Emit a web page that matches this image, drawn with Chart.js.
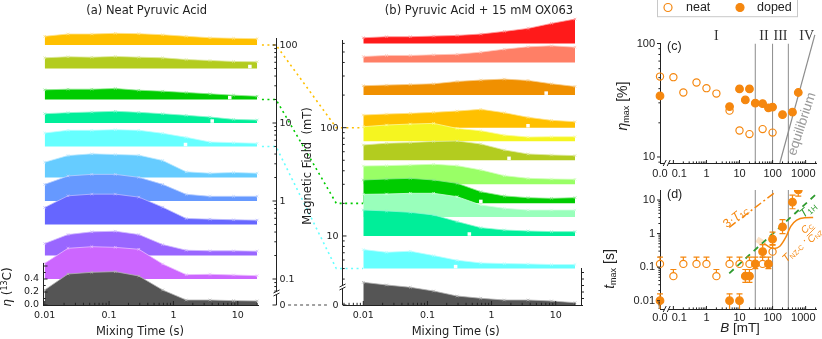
<!DOCTYPE html>
<html><head><meta charset="utf-8">
<script src="https://cdn.jsdelivr.net/npm/chart.js@4.4.1/dist/chart.umd.min.js"></script>
<style>
html,body{margin:0;padding:0;background:#fff;}
#wrap{position:relative;width:822px;height:339px;overflow:hidden;background:#fff;}
#wrap canvas{position:absolute;}
</style></head><body>
<div id="wrap">
<canvas id="cA" width="270" height="339" style="left:0px;top:0px"></canvas>
<canvas id="cB" width="262" height="339" style="left:338px;top:0px"></canvas>
<canvas id="cM" width="110" height="339" style="left:258px;top:0px"></canvas>
<canvas id="cC" width="222" height="185" style="left:600px;top:0px"></canvas>
<canvas id="cD" width="222" height="169" style="left:600px;top:170px"></canvas>
</div>
<script>
// ================= DATA =================
const mixTimes = [0.01, 0.023, 0.054, 0.125, 0.29, 0.68, 1.58, 3.7, 8.6, 20];
const mixTickValues = [0.01, 0.1, 1, 10];
const mixTickLabels = ['0.01', '0.1', '1', '10'];
const etaTickValues = [0, 0.2, 0.4];
const etaTickLabels = ['0.0', '0.2', '0.4'];

// (a) neat pyruvic acid: eta(13C) vs mixing time, one ridge per field (mT)
const neatFields = [100, 50, 20, 10, 5, 2, 1, 0.5, 0.2, 0.1, 0];
const neatEta100 = [0.134, 0.169, 0.169, 0.180, 0.174, 0.158, 0.134, 0.112, 0.103, 0.097];
const neatEta50  = [0.164, 0.180, 0.174, 0.185, 0.174, 0.164, 0.138, 0.123, 0.108, 0.103];
const neatEta20  = [0.149, 0.159, 0.159, 0.169, 0.143, 0.128, 0.108, 0.087, 0.067, 0.051];
const neatEta10  = [0.143, 0.159, 0.169, 0.180, 0.164, 0.143, 0.118, 0.092, 0.056, 0.046];
const neatEta5   = [0.208, 0.249, 0.249, 0.259, 0.249, 0.203, 0.141, 0.069, 0.059, 0.049];
const neatEta2   = [0.236, 0.338, 0.364, 0.354, 0.344, 0.262, 0.087, 0.067, 0.077, 0.067];
const neatEta1   = [0.256, 0.385, 0.410, 0.410, 0.364, 0.256, 0.103, 0.072, 0.072, 0.072];
const neatEta05  = [0.262, 0.441, 0.467, 0.467, 0.421, 0.267, 0.092, 0.082, 0.072, 0.067];
const neatEta02  = [0.185, 0.323, 0.364, 0.374, 0.323, 0.169, 0.082, 0.072, 0.072, 0.067];
const neatEta01  = [0.241, 0.472, 0.497, 0.487, 0.457, 0.231, 0.067, 0.072, 0.062, 0.051];
const neatEta0   = [0.231, 0.477, 0.503, 0.513, 0.446, 0.231, 0.077, 0.077, 0.067, 0.062];
const neatCurves = [neatEta100, neatEta50, neatEta20, neatEta10, neatEta5, neatEta2, neatEta1, neatEta05, neatEta02, neatEta01, neatEta0];
const neatColors = ['#FFC000', '#B3CC1F', '#00CC00', '#00EE99', '#66FFFF', '#66CCFF', '#6699FF', '#6666FF', '#9966FF', '#CC66FF', '#555555'];
const neatNotchFields = [50, 20, 10, 5];
const neatNotchTimes = [15.4, 7.5, 4.0, 1.54];

// (b) pyruvic acid + 15 mM OX063
const dopedFields = [600, 400, 200, 100, 75, 50, 30, 20, 15, 10, 5, 0];
const dopedEta600 = [0.087, 0.103, 0.103, 0.113, 0.123, 0.144, 0.185, 0.231, 0.308, 0.374];
const dopedEta400 = [0.092, 0.108, 0.108, 0.118, 0.128, 0.159, 0.205, 0.241, 0.256, 0.236];
const dopedEta200 = [0.144, 0.154, 0.164, 0.174, 0.210, 0.231, 0.246, 0.226, 0.174, 0.133];
const dopedEta100 = [0.195, 0.210, 0.221, 0.236, 0.256, 0.282, 0.231, 0.159, 0.113, 0.092];
const dopedEta75  = [0.223, 0.249, 0.264, 0.274, 0.197, 0.162, 0.095, 0.064, 0.069, 0.069];
const dopedEta50  = [0.236, 0.262, 0.272, 0.290, 0.297, 0.251, 0.159, 0.097, 0.082, 0.072];
const dopedEta30  = [0.282, 0.287, 0.297, 0.308, 0.287, 0.221, 0.133, 0.092, 0.082, 0.077];
const dopedEta20  = [0.360, 0.375, 0.385, 0.360, 0.308, 0.180, 0.114, 0.088, 0.077, 0.088];
const dopedEta15  = [0.347, 0.352, 0.363, 0.363, 0.311, 0.183, 0.132, 0.106, 0.106, 0.106];
const dopedEta10  = [0.400, 0.385, 0.364, 0.323, 0.221, 0.128, 0.092, 0.077, 0.067, 0.067];
const dopedEta5   = [0.292, 0.251, 0.267, 0.200, 0.128, 0.087, 0.077, 0.072, 0.062, 0.062];
const dopedEta0   = [0.349, 0.308, 0.272, 0.215, 0.138, 0.103, 0.077, 0.077, 0.062, 0.036];
const dopedCurves = [dopedEta600, dopedEta400, dopedEta200, dopedEta100, dopedEta75, dopedEta50, dopedEta30, dopedEta20, dopedEta15, dopedEta10, dopedEta5, dopedEta0];
const dopedColors = ['#FF1A1A', '#FF7F66', '#F09000', '#FFC000', '#F5F520', '#B3CC1F', '#99FF66', '#00CC00', '#99FFBB', '#00EE99', '#66FFFF', '#555555'];
const dopedNotchFields = [200, 100, 50, 20, 10, 5];
const dopedNotchTimes = [7.1, 3.7, 1.87, 0.68, 0.45, 0.275];

// magnetic-field axes between (a) and (b)
const fieldMajorA = [100, 10, 1, 0.1, 0];
const fieldLabelsA = ['100', '10', '1', '0.1', '0'];
const fieldMajorB = [100, 10, 0];
const fieldLabelsB = ['100', '10', '0'];
const linkFields = [100, 20, 5];
const linkColors = ['#FFC000', '#00CC00', '#66FFFF'];

// (c) eta_max [%]
const neatB = [0, 0.1, 0.2, 0.5, 1, 2, 5, 10, 20, 50, 100];
const neatEtaMax = [51.1, 50.5, 37.0, 45.3, 40.4, 36.2, 25.6, 17.1, 15.9, 17.6, 16.4];
const dopedB = [0, 5, 10, 15, 20, 30, 50, 75, 100, 200, 400, 600];
const dopedEtaMax = [34.5, 27.8, 39.8, 31.8, 39.8, 29.8, 29.5, 27.1, 27.5, 23.6, 24.8, 37.0];
const regionBounds = [30, 100, 300];
const regionLabels = ['I', 'II', 'III', 'IV'];
const equilibriumB = [166, 1900];
const equilibriumEta = [8.85, 119];
const bTickValues = [0, 0.1, 1, 10, 100, 1000];
const bTickLabels = ['0.0', '0.1', '1', '10', '100', '1000'];

// (d) t_max [s]
const neatTmax   = [0.125, 0.054, 0.125, 0.125, 0.125, 0.054, 0.125, 0.125, 0.125, 0.125, 0.29];
const neatTmaxHi = [0.2, 0.085, 0.2, 0.2, 0.2, 0.085, 0.2, 0.2, 0.2, 0.2, 0.47];
const neatTmaxLo = [0.1, 0.045, 0.1, 0.1, 0.1, 0.045, 0.1, 0.1, 0.1, 0.1, 0.23];
const dopedTmax   = [0.01, 0.01, 0.01, 0.054, 0.054, 0.125, 0.29, 0.125, 0.68, 1.58, 8.6, 20];
const dopedTmaxHi = [0.016, 0.016, 0.016, 0.085, 0.085, 0.2, 0.47, 0.2, 1.1, 2.6, 14, 32];
const dopedTmaxLo = [0.004, 0.004, 0.004, 0.035, 0.035, 0.09, 0.2, 0.09, 0.45, 1.0, 5.5, 13];
const t1cB = [4.9, 126];
const t1cTimes3 = [1.54, 17.7];
const t1hB = [4.9, 1950];
const t1hTimes = [0.0656, 14.1];
const nzB = [55.7, 83, 112, 166, 252, 355, 537, 935, 1690];
const nzTimes = [0.50, 0.39, 0.36, 0.42, 0.78, 1.65, 2.5, 2.95, 3.0];
const nzHaloB = [33.6, 58.5];
const nzHaloTimes = [0.68, 0.48];
const tTickValues = [0.01, 0.1, 1, 10];
const tTickLabels = ['0.01', '0.1', '1', '10'];

// ================= HELPERS =================
const FDV = "'DejaVu Sans', sans-serif";
const FLS = "'Liberation Sans', Arial, sans-serif";
const FSR = "'Liberation Serif', 'DejaVu Serif', serif";
const INK = '#222222';
const ORANGE = '#F5870F';
const DGREEN = '#2F9B2F';

function mix(hex, w) {
  const n = parseInt(hex.slice(1), 16);
  const f = c => Math.round(c + (255 - c) * w);
  return 'rgb(' + f((n >> 16) & 255) + ',' + f((n >> 8) & 255) + ',' + f(n & 255) + ')';
}
function seg(ctx, x1, y1, x2, y2, color, w) {
  ctx.beginPath(); ctx.moveTo(x1, y1); ctx.lineTo(x2, y2);
  ctx.strokeStyle = color || INK; ctx.lineWidth = w || 1; ctx.stroke();
}
function rich(ctx, segs, x, y, o) {
  o = o || {};
  ctx.save();
  ctx.translate(x, y);
  if (o.rot) ctx.rotate(o.rot * Math.PI / 180);
  ctx.textBaseline = 'middle';
  let w = 0;
  for (const s of segs) { ctx.font = s.f; s._w = ctx.measureText(s.t).width; w += s._w; }
  let cx = o.align === 'left' ? 0 : o.align === 'right' ? -w : -w / 2;
  for (const s of segs) {
    ctx.font = s.f; ctx.fillStyle = s.c || o.color || INK;
    ctx.fillText(s.t, cx, s.dy || 0); cx += s._w;
  }
  ctx.restore();
}
function logMinors(lo, hi) {
  const out = [];
  for (let e = -3; e <= 3; e++) for (let k = 2; k <= 9; k++) {
    const v = k * Math.pow(10, e);
    if (v >= lo && v <= hi) out.push(v);
  }
  return out;
}
function baseOpts(padding) {
  return {
    responsive: false, animation: false, devicePixelRatio: 1, events: [],
    layout: { padding: padding },
    plugins: { legend: { display: false }, tooltip: { enabled: false } }
  };
}
// ridge baselines (in eta units, 65 px per unit, zero line at the x axis) placed on the field axes
const offA = B => B === 0 ? 0 : 4.0 + (Math.log10(B) - 2) * 1.2;
const offB = B => B === 0 ? 0 : 2.728 + (Math.log10(B) - 2) * 1.666;
const ETA_MAX_A = 285 / 65;
const ETA_MAX_B = 295 / 65;
const ETA_MAX_M = 266 / 65;

function ridge(B, vals, col, off, order) {
  const b0 = off(B), edge = mix(col, 0.55);
  return {
    data: mixTimes.map((t, j) => ({ x: t, y: b0 + vals[j] })),
    fill: { value: b0 }, backgroundColor: col,
    borderColor: edge, borderWidth: 0.8,
    pointStyle: 'crossRot', pointRadius: 1.8, pointBorderColor: edge, pointBorderWidth: 0.8,
    clip: false, order: order
  };
}
function notches(fields, times, off) {
  return {
    data: fields.map((B, i) => ({ x: times[i], y: off(B) + 0.03 })),
    showLine: false, pointStyle: 'rect', pointRadius: 2.5,
    pointBackgroundColor: '#ffffff', pointBorderWidth: 0, clip: false, order: 0
  };
}
function mixXAxis(min, max) {
  return {
    type: 'logarithmic', min: min, max: max,
    afterBuildTicks: s => { s.ticks = mixTickValues.map(v => ({ value: v })); },
    afterFit: s => { s.height = 34; },
    ticks: { callback: (v, i) => mixTickLabels[i], font: { family: FDV, size: 9.5 }, color: INK, padding: 5, maxRotation: 0, minRotation: 0, autoSkip: false },
    grid: { display: false, drawTicks: false },
    border: { display: true, color: INK, width: 1 }
  };
}
function mixXTicks(ctx, xs, yAxis) {
  mixTickValues.forEach(v => seg(ctx, xs.getPixelForValue(v), yAxis, xs.getPixelForValue(v), yAxis - 4));
  logMinors(xs.min, xs.max).forEach(v => seg(ctx, xs.getPixelForValue(v), yAxis, xs.getPixelForValue(v), yAxis - 2.2));
}

// ================= PANEL (a) =================
new Chart(document.getElementById('cA'), {
  type: 'line',
  data: { datasets: neatFields.map((B, i) => ridge(B, neatCurves[i], neatColors[i], offA, neatFields.length - i))
            .concat([notches(neatNotchFields, neatNotchTimes, offA)]) },
  options: Object.assign(baseOpts({ top: 20, right: 12, left: 0, bottom: 0 }), {
    scales: {
      x: mixXAxis(0.00941, 20.6),
      y: {
        type: 'linear', min: 0, max: ETA_MAX_A,
        afterBuildTicks: s => { s.ticks = etaTickValues.map(v => ({ value: v })); },
        afterFit: s => { s.width = 43; },
        ticks: { callback: (v, i) => etaTickLabels[i], font: { family: FDV, size: 9.5 }, color: INK, padding: 4 },
        grid: { display: false, drawTicks: false }, border: { display: false }
      }
    }
  }),
  plugins: [{
    id: 'decorA',
    afterDraw(chart) {
      const ctx = chart.ctx, ca = chart.chartArea, ys = chart.scales.y, xs = chart.scales.x;
      ctx.save();
      const xl = ca.left + 0.5;
      seg(ctx, xl, ys.getPixelForValue(0), xl, ys.getPixelForValue(0.646));
      [0, 0.1, 0.2, 0.3, 0.4, 0.5, 0.6].forEach((v, i) => {
        const y = ys.getPixelForValue(v);
        seg(ctx, xl, y, xl + (i % 2 === 0 ? 4 : 2.2), y);
      });
      mixXTicks(ctx, xs, ca.bottom);
      rich(ctx, [{ t: '(a) Neat Pyruvic Acid', f: '11.5px ' + FDV }], 146.7, 11);
      rich(ctx, [{ t: 'Mixing Time (s)', f: '11.5px ' + FDV }], 140, 332);
      rich(ctx, [{ t: 'η', f: 'italic 12px ' + FDV }, { t: ' (', f: '12px ' + FDV },
                 { t: '13', f: '8px ' + FDV, dy: -3.5 }, { t: 'C)', f: '12px ' + FDV }], 8, 287, { rot: -90 });
      ctx.restore();
    }
  }]
});

// ================= PANEL (b) =================
new Chart(document.getElementById('cB'), {
  type: 'line',
  data: { datasets: dopedFields.map((B, i) => ridge(B, dopedCurves[i], dopedColors[i], offB, dopedFields.length - i))
            .concat([notches(dopedNotchFields, dopedNotchTimes, offB)]) },
  options: Object.assign(baseOpts({ top: 10, right: 18, left: 5, bottom: 0 }), {
    scales: {
      x: mixXAxis(0.004824, 25.7),
      y: { type: 'linear', min: 0, max: ETA_MAX_B, display: false }
    }
  }),
  plugins: [{
    id: 'decorB',
    afterDraw(chart) {
      const ctx = chart.ctx, ca = chart.chartArea, ys = chart.scales.y, xs = chart.scales.x;
      ctx.save();
      const xr = ca.right - 0.5;
      seg(ctx, xr, ys.getPixelForValue(0), xr, ys.getPixelForValue(0.569));
      [0.1, 0.2, 0.3, 0.4, 0.5].forEach(v => { const y = ys.getPixelForValue(v); seg(ctx, xr, y, xr + 2.5, y); });
      mixXTicks(ctx, xs, ca.bottom);
      rich(ctx, [{ t: '(b) Pyruvic Acid + 15 mM OX063', f: '11.5px ' + FDV }], 479 - 338, 11);
      rich(ctx, [{ t: 'Mixing Time (s)', f: '11.5px ' + FDV }], 455.7 - 338, 332);
      ctx.restore();
    }
  }]
});

// ================= FIELD AXES + CONNECTORS =================
const connectorSets = linkFields.map((B, i) => ({
  data: [{ x: -0.21, y: offA(B) }, { x: 0, y: offA(B) }, { x: 0.9, y: offB(B) }, { x: 1.3, y: offB(B) }],
  borderColor: linkColors[i], borderWidth: 1.6, borderDash: [2, 3.5], pointRadius: 0, fill: false, clip: false
})).concat([{
  data: [{ x: 0.18, y: 0 }, { x: 0.76, y: 0 }],
  borderColor: '#444444', borderWidth: 1, borderDash: [3, 3], pointRadius: 0, fill: false, clip: false
}]);

function breakAxis(ctx, x, yTop, yBot, yBrk) {
  seg(ctx, x, yTop, x, yBrk - 2);
  seg(ctx, x, yBrk + 2, x, yBot);
  seg(ctx, x - 3, yBrk, x + 3, yBrk - 3);
  seg(ctx, x - 3, yBrk + 3, x + 3, yBrk);
}

new Chart(document.getElementById('cM'), {
  type: 'line',
  data: { datasets: connectorSets },
  options: Object.assign(baseOpts({ top: 39, right: 25, left: 18, bottom: 34 }), {
    scales: {
      x: { type: 'linear', min: 0, max: 1, display: false },
      y: { type: 'linear', min: 0, max: ETA_MAX_M, display: false }
    }
  }),
  plugins: [{
    id: 'decorM',
    afterDraw(chart) {
      const ctx = chart.ctx, ca = chart.chartArea, ys = chart.scales.y;
      ctx.save();
      const xa = ca.left + 0.5, xb = ca.right - 0.5;
      // (a) field axis
      breakAxis(ctx, xa, ca.top - 1, ys.getPixelForValue(0), ys.getPixelForValue(0.185));
      fieldMajorA.forEach((B, i) => {
        const y = ys.getPixelForValue(offA(B));
        seg(ctx, xa - 4, y, xa, y);
        rich(ctx, [{ t: fieldLabelsA[i], f: '9.5px ' + FDV }], xa + 3, y + 0.5, { align: 'left' });
      });
      logMinors(0.066, 200).filter(B => offA(B) <= ETA_MAX_M).forEach(B => {
        const y = ys.getPixelForValue(offA(B)); seg(ctx, xa - 2.2, y, xa, y);
      });
      // (b) field axis
      breakAxis(ctx, xb, ca.top + 1, ys.getPixelForValue(0), ys.getPixelForValue(0.277));
      fieldMajorB.forEach((B, i) => {
        const y = ys.getPixelForValue(offB(B));
        seg(ctx, xb, y, xb + 4, y);
        rich(ctx, [{ t: fieldLabelsB[i], f: '9.5px ' + FDV }], xb - 4, y + 0.5, { align: 'right' });
      });
      logMinors(3.4, 650).forEach(B => {
        const y = ys.getPixelForValue(offB(B)); seg(ctx, xb, y, xb + 2.2, y);
      });
      rich(ctx, [{ t: 'Magnetic Field  (mT)', f: '11.5px ' + FDV }], 308.5 - 258, 166, { rot: -90 });
      ctx.restore();
    }
  }]
});

// ================= PANELS (c) & (d) =================
const ZERO_POS = -1.405;
const fieldToX = B => B === 0 ? ZERO_POS : Math.log10(B);
const X_MAX = 3.338;
const bLabelShift = [0, 0.18, 0, 0, 0, -0.07];

function bXAxis(h, pad) {
  return {
    type: 'linear', min: ZERO_POS, max: X_MAX,
    afterBuildTicks: s => { s.ticks = bTickValues.map((v, i) => ({ value: fieldToX(v) + bLabelShift[i] })); },
    afterFit: s => { s.height = h; },
    ticks: { callback: (v, i) => bTickLabels[i], font: { family: FLS, size: 11 }, color: INK, padding: pad, maxRotation: 0, minRotation: 0, autoSkip: false },
    grid: { display: false, drawTicks: false },
    border: { display: true, color: INK, width: 1 }
  };
}
function logYAxis(min, max, vals, labels) {
  return {
    type: 'logarithmic', min: min, max: max,
    afterBuildTicks: s => { s.ticks = vals.map(v => ({ value: v })); },
    afterFit: s => { s.width = 60; },
    ticks: { callback: (v, i) => labels[i], font: { family: FLS, size: 11 }, color: INK, padding: 5, autoSkip: false },
    grid: { display: false, drawTicks: false },
    border: { display: true, color: INK, width: 1 }
  };
}
function regionLines(ymin, ymax) {
  return regionBounds.map(B => ({
    data: [{ x: fieldToX(B), y: ymin }, { x: fieldToX(B), y: ymax }],
    borderColor: '#8c8c8c', borderWidth: 1, pointRadius: 0, fill: false, order: 5
  }));
}
function bAxisDecor(ctx, xs, ys, ca) {
  const yb = ca.bottom;
  bTickValues.forEach(v => { const x = xs.getPixelForValue(fieldToX(v)); if (v > 0) seg(ctx, x, yb, x, yb - 3); });
  logMinors(0.15, 2200).forEach(v => { const x = xs.getPixelForValue(fieldToX(v)); seg(ctx, x, yb, x, yb - 1.6); });
  // axis break //
  const xk = 666.7 - 600;
  ctx.fillStyle = '#ffffff'; ctx.fillRect(xk - 2, yb - 2, 4, 4);
  seg(ctx, xk - 3.5, yb + 3, xk - 0.5, yb - 3);
  seg(ctx, xk + 0.5, yb + 3, xk + 3.5, yb - 3);
}
function yLogDecor(ctx, ys, ca, majors) {
  const x = ca.left;
  majors.forEach(v => { const y = ys.getPixelForValue(v); seg(ctx, x - 3, y, x, y); });
  logMinors(ys.min, ys.max).forEach(v => { const y = ys.getPixelForValue(v); seg(ctx, x - 1.6, y, x, y); });
}
function pointSet(Bs, vals, filled, r) {
  return {
    data: Bs.map((B, i) => ({ x: fieldToX(B), y: vals[i] })),
    showLine: false, pointStyle: 'circle', pointRadius: r,
    pointBackgroundColor: filled ? ORANGE : 'rgba(255,255,255,0)',
    pointBorderColor: ORANGE, pointBorderWidth: 1.2,
    clip: { left: false, right: false, top: 0, bottom: false }, order: 0
  };
}

new Chart(document.getElementById('cC'), {
  type: 'line',
  data: {
    datasets: [pointSet(neatB, neatEtaMax, false, 3.6), pointSet(dopedB, dopedEtaMax, true, 3.8)]
      .concat(regionLines(8.85, 100))
      .concat([{
        data: equilibriumB.map((B, i) => ({ x: fieldToX(B), y: equilibriumEta[i] })),
        borderColor: '#8c8c8c', borderWidth: 1.2, pointRadius: 0, fill: false, clip: false, order: 5
      }])
  },
  options: Object.assign(baseOpts({ top: 43.5, right: 5, left: 0, bottom: 0 }), {
    scales: { x: bXAxis(22, 4), y: logYAxis(8.85, 100, [10, 100], ['10', '100']) }
  }),
  plugins: [{
    id: 'decorC',
    afterDraw(chart) {
      const ctx = chart.ctx, ca = chart.chartArea, ys = chart.scales.y, xs = chart.scales.x;
      ctx.save();
      yLogDecor(ctx, ys, ca, [10, 100]);
      bAxisDecor(ctx, xs, ys, ca);
      const labPos = [0.3, 1.739, 2.239, 3.03];
      regionLabels.forEach((t, i) => rich(ctx, [{ t: t, f: '14px ' + FSR }], xs.getPixelForValue(labPos[i]), 36, { color: '#333' }));
      rich(ctx, [{ t: '(c)', f: '12.5px ' + FLS }], 667 - 600, 47, { align: 'left' });
      rich(ctx, [{ t: 'η', f: 'italic 14px ' + FLS }, { t: 'max', f: '9px ' + FLS, dy: 3.5 }, { t: ' [%]', f: '14px ' + FLS }],
           623 - 600, 106, { rot: -90 });
      rich(ctx, [{ t: 'equilibrium', f: '13.5px ' + FLS }], 802 - 600, 124, { rot: -72, color: '#9a9a9a' });
      // legend
      const ds = chart.data.datasets;
      ctx.strokeStyle = '#c8c8c8'; ctx.lineWidth = 1; ctx.strokeRect(57.5, -0.5, 140, 17.2);
      [[68, ds[0], 'neat', 86], [140, ds[1], 'doped', 157]].forEach(([cx, d, txt, tx]) => {
        ctx.beginPath(); ctx.arc(cx, 7.5, 4, 0, Math.PI * 2);
        ctx.fillStyle = d.pointBackgroundColor; ctx.fill();
        ctx.strokeStyle = d.pointBorderColor; ctx.lineWidth = 1.2; ctx.stroke();
        rich(ctx, [{ t: txt, f: '12.5px ' + FLS }], tx, 8, { align: 'left' });
      });
      ctx.restore();
    }
  }]
});

function errBars(ctx, xs, ys, ca, Bs, vals, lo, hi, r) {
  ctx.save();
  ctx.beginPath(); ctx.rect(ca.left - 10, ca.top, ca.width + 20, ca.height); ctx.clip();
  Bs.forEach((B, i) => {
    const x = xs.getPixelForValue(fieldToX(B));
    const y = ys.getPixelForValue(vals[i]);
    const yh = ys.getPixelForValue(hi[i]), yl = ys.getPixelForValue(lo[i]);
    if (y - r > yh) { seg(ctx, x, y - r, x, yh, ORANGE, 1.2); seg(ctx, x - 3, yh, x + 3, yh, ORANGE, 1.2); }
    if (y + r < yl) { seg(ctx, x, y + r, x, yl, ORANGE, 1.2); seg(ctx, x - 3, yl, x + 3, yl, ORANGE, 1.2); }
  });
  ctx.restore();
}

new Chart(document.getElementById('cD'), {
  type: 'line',
  data: {
    datasets: [pointSet(neatB, neatTmax, false, 3.6), pointSet(dopedB, dopedTmax, true, 3.8)]
      .concat(regionLines(0.00566, 19.9))
      .concat([
        { data: t1cB.map((B, i) => ({ x: fieldToX(B), y: t1cTimes3[i] })), borderColor: ORANGE, borderWidth: 1.5, borderDash: [8, 3, 2, 3], pointRadius: 0, fill: false, order: 3 },
        { data: t1hB.map((B, i) => ({ x: fieldToX(B), y: t1hTimes[i] })), borderColor: DGREEN, borderWidth: 1.8, borderDash: [6, 5], pointRadius: 0, fill: false, order: 3 },
        { data: nzHaloB.map((B, i) => ({ x: fieldToX(B), y: nzHaloTimes[i] })), borderColor: 'rgba(245,135,15,0.25)', borderWidth: 6, pointRadius: 0, fill: false, order: 4 },
        { data: nzB.map((B, i) => ({ x: fieldToX(B), y: nzTimes[i] })), borderColor: ORANGE, borderWidth: 1.5, cubicInterpolationMode: 'monotone', pointRadius: 0, fill: false, order: 3 }
      ])
  },
  options: Object.assign(baseOpts({ top: 20, right: 5, left: 0, bottom: 0 }), {
    scales: { x: bXAxis(30, 2.5), y: logYAxis(0.00566, 19.9, tTickValues, tTickLabels) }
  }),
  plugins: [{
    id: 'decorD',
    afterDraw(chart) {
      const ctx = chart.ctx, ca = chart.chartArea, ys = chart.scales.y, xs = chart.scales.x;
      ctx.save();
      yLogDecor(ctx, ys, ca, tTickValues);
      bAxisDecor(ctx, xs, ys, ca);
      errBars(ctx, xs, ys, ca, neatB, neatTmax, neatTmaxLo, neatTmaxHi, 3.6);
      errBars(ctx, xs, ys, ca, dopedB, dopedTmax, dopedTmaxLo, dopedTmaxHi, 3.8);
      const oy = 170, ox = 600;
      rich(ctx, [{ t: '(d)', f: '12.5px ' + FLS }], 667 - ox, 195 - oy, { align: 'left' });
      rich(ctx, [{ t: 't', f: 'italic 14px ' + FLS }, { t: 'max', f: '9px ' + FLS, dy: 3.5 }, { t: ' [s]', f: '14px ' + FLS }],
           610 - ox, 269 - oy, { rot: -90 });
      rich(ctx, [{ t: 'B', f: 'italic 13.5px ' + FLS }, { t: ' [mT]', f: '13.5px ' + FLS }], 740 - ox, 328.5 - oy);
      rich(ctx, [{ t: '3·', f: '12px ' + FLS }, { t: 'T', f: 'italic 12px ' + FLS }, { t: '1C', f: '8px ' + FLS, dy: 3 }],
           736 - ox, 217 - oy, { rot: -37, color: ORANGE });
      rich(ctx, [{ t: 'T', f: 'italic 12px ' + FLS }, { t: '1H', f: '8px ' + FLS, dy: 3 }],
           808 - ox, 210 - oy, { rot: -40, color: DGREEN });
      rich(ctx, [{ t: 'T', f: 'italic 11px ' + FLS }, { t: 'NZ-C', f: '7px ' + FLS, dy: 3 }, { t: ' ·', f: '11px ' + FLS }],
           795 - ox, 250 - oy, { rot: -45, color: ORANGE });
      // fraction C_C / C_NZ
      ctx.save();
      ctx.translate(811 - ox, 232 - oy); ctx.rotate(-45 * Math.PI / 180);
      rich(ctx, [{ t: 'C', f: 'italic 10px ' + FLS }, { t: 'C', f: '6.5px ' + FLS, dy: 2.5 }], 0, -5.5, { color: ORANGE });
      seg(ctx, -6, 0, 6, 0, ORANGE, 0.8);
      rich(ctx, [{ t: 'C', f: 'italic 10px ' + FLS }, { t: 'NZ', f: '6.5px ' + FLS, dy: 2.5 }], 0, 5.5, { color: ORANGE });
      ctx.restore();
      ctx.restore();
    }
  }]
});
</script>
</body></html>
